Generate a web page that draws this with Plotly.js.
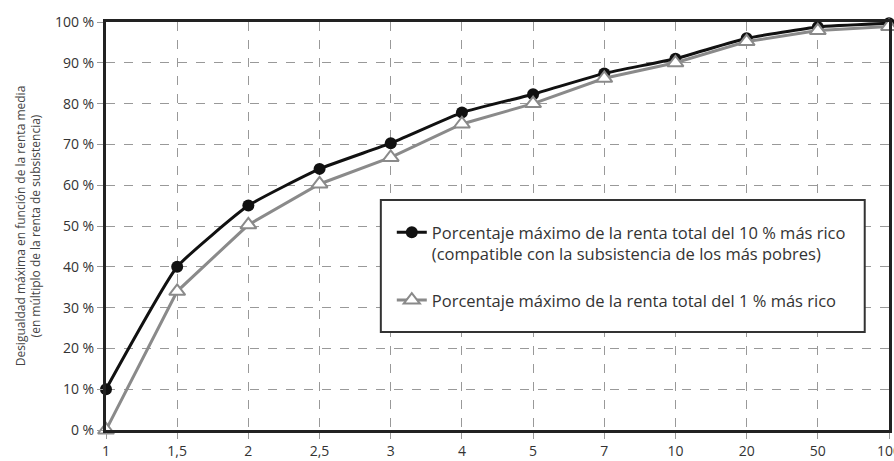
<!DOCTYPE html>
<html>
<head>
<meta charset="utf-8">
<script src="https://cdn.plot.ly/plotly-3.0.1.min.js"></script>
<style>
  body { margin: 0; background: #fff; }
  #chart { width: 894px; height: 461px; }
</style>
</head>
<body>
<div id="chart"></div>
<script>
// Multiples of subsistence income (categorical x axis)
const multiples = ['1', '1,5', '2', '2,5', '3', '4', '5', '7', '10', '20', '50', '100'];

// Max share of total income, top 10% (compatible with subsistence of the poorest)
const top10Share = [10, 40, 55, 64, 70.3, 77.8, 82.3, 87.4, 91, 96, 98.8, 99.7];
// Max share of total income, top 1%
const top1Share = [0, 34, 50.3, 60.3, 66.8, 75, 80, 86.2, 90, 95.2, 97.9, 98.9];

const yTicks = [0, 10, 20, 30, 40, 50, 60, 70, 80, 90, 100];
const yTickText = yTicks.map(v => v + ' %');

const font = 'Open Sans, Noto Sans, sans-serif';

const traces = [
  {
    x: multiples,
    y: top10Share,
    name: 'Porcentaje máximo de la renta total del 10 % más rico<br>(compatible con la subsistencia de los más pobres)',
    legendgroup: 'a',
    type: 'scatter',
    mode: 'lines+markers',
    line: { color: '#111', width: 3, shape: 'spline', smoothing: 0.4 },
    marker: { symbol: 'circle', color: '#111', size: 12 },
    cliponaxis: false,
  },
  {
    x: multiples,
    y: top1Share,
    name: 'Porcentaje máximo de la renta total del 1 % más rico',
    legendgroup: 'b',
    type: 'scatter',
    mode: 'lines+markers',
    line: { color: '#8a8a8a', width: 3 },
    marker: { symbol: 'triangle-up', color: '#fff', size: 14, line: { color: '#8a8a8a', width: 2 } },
    cliponaxis: false,
  },
];

Plotly.newPlot('chart', traces, {
  width: 894,
  height: 461,
  margin: { l: 106, r: 5, t: 22, b: 31 },
  paper_bgcolor: '#fff',
  plot_bgcolor: '#fff',
  font: { family: font, size: 14, color: '#333' },
  showlegend: true,
  legend: {
    x: 0.365, y: 0.527, xanchor: 'left', yanchor: 'top',
    bgcolor: 'rgba(0,0,0,0)',
    borderwidth: 0,
    font: { family: font, size: 16.5, color: '#333' },
    traceorder: 'grouped',
    tracegroupgap: 22,
    valign: 'top',
    itemwidth: 30,
  },
  // legend frame
  shapes: [{
    type: 'rect', xref: 'paper', yref: 'paper',
    x0: 0.351, x1: 0.969, y0: 0.240, y1: 0.564,
    line: { color: '#333', width: 2 },
    fillcolor: '#fff',
    layer: 'above',
  }],
  xaxis: {
    type: 'category',
    range: [0, 11],
    showline: true, mirror: true, linecolor: '#222', linewidth: 3,
    showgrid: true, gridcolor: '#999', griddash: 'dash', gridwidth: 1,
    ticks: 'outside', ticklen: 6, tickcolor: '#999',
    tickfont: { family: font, size: 14, color: '#333' },
    zeroline: false,
  },
  yaxis: {
    range: [0, 100],
    tickvals: yTicks,
    ticktext: yTickText,
    showline: true, mirror: true, linecolor: '#222', linewidth: 3,
    showgrid: true, gridcolor: '#999', griddash: 'dash', gridwidth: 1,
    ticks: 'outside', ticklen: 6, tickcolor: '#999',
    tickfont: { family: font, size: 14, color: '#333' },
    zeroline: false,
    title: {
      text: 'Desigualdad máxima en función de la renta media<br>(en múltiplo de la renta de subsistencia)',
      font: { family: font, size: 12, color: '#444' },
      standoff: 12,
    },
  },
}, { displayModeBar: false, staticPlot: true });
</script>
</body>
</html>
